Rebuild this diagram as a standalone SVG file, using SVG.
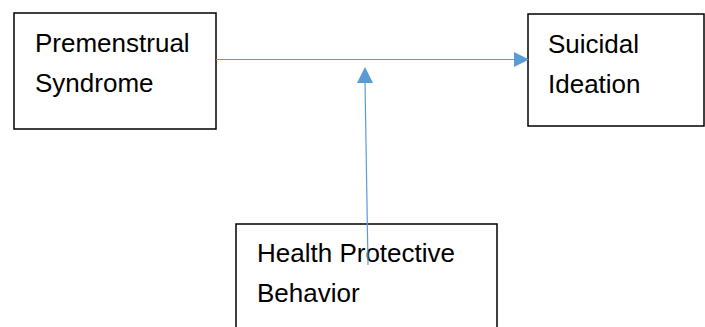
<svg xmlns="http://www.w3.org/2000/svg" width="705" height="327" viewBox="0 0 705 327">
<style>
.box{fill:#fff;stroke:#000;stroke-width:1.5}
.t{font-family:"Liberation Sans",Arial,sans-serif;font-size:26px;fill:#000}
.c{stroke:#5B9BD5;stroke-width:1.2;fill:none}
.ah{fill:#5B9BD5}
</style>
<g id="premenstrual">
<rect class="box" x="14" y="13" width="202" height="116"/>
<text class="t" x="35" y="52">Premenstrual</text>
<text class="t" x="35" y="92">Syndrome</text>
</g>
<g id="suicidal">
<rect class="box" x="528" y="14" width="176" height="112"/>
<text class="t" x="548" y="53">Suicidal</text>
<text class="t" x="548" y="93">Ideation</text>
</g>
<g id="health">
<rect class="box" x="236" y="224" width="261" height="120"/>
<text class="t" x="257" y="262">Health Protective</text>
<text class="t" x="257" y="302">Behavior</text>
</g>
<g id="connectors">
<line class="c" x1="216" y1="59.5" x2="515" y2="59.5"/>
<polygon class="ah" points="529,59.5 514,52 514,67"/>
<line class="c" x1="368" y1="265" x2="365" y2="82"/>
<polygon class="ah" points="365,67 357,83 373,83"/>
</g>
</svg>
